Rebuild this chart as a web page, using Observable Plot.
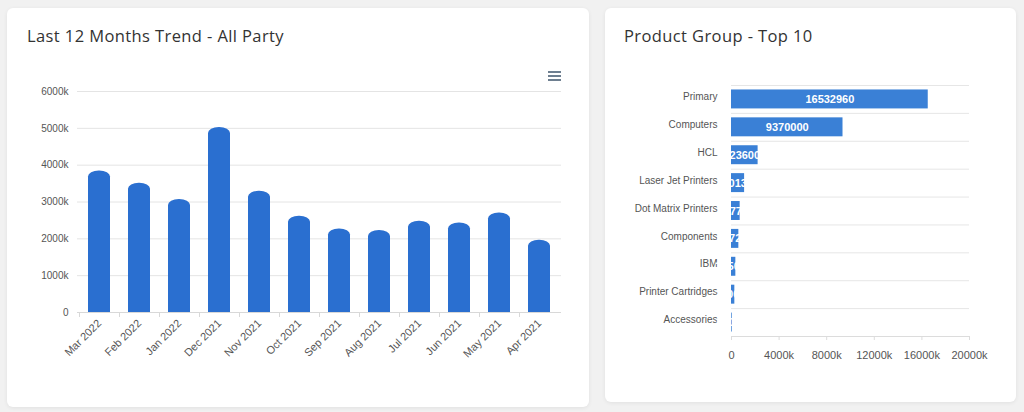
<!DOCTYPE html>
<html>
<head>
<meta charset="utf-8">
<script src="https://cdn.jsdelivr.net/npm/d3@7"></script>
<script src="https://cdn.jsdelivr.net/npm/@observablehq/plot@0.6"></script>
<style>
  html, body { margin: 0; padding: 0; }
  body { width: 1024px; height: 412px; background: #f1f1f1; position: relative; overflow: hidden; font-family: "Liberation Sans", Arial, sans-serif; }
  .card { position: absolute; background: #fff; border-radius: 6px; box-shadow: 0 1px 4px rgba(0,0,0,0.07); }
  .title { position: absolute; font-family: "Open Sans", "Noto Sans", sans-serif; font-size: 16.5px; color: #333; white-space: nowrap; letter-spacing: 0.4px; }
  .chart { position: absolute; left: 0; top: 50px; }
  .menu { position: absolute; width: 13px; height: 10px; }
  .menu div { height: 1.6px; background: #6e7f90; margin-bottom: 2.6px; }
</style>
</head>
<body>
<div class="card" id="leftCard" style="left:7px; top:8px; width:582px; height:399px;">
  <div class="title" style="left:20px; top:16px;">Last 12 Months Trend - All Party</div>
  <div class="menu" style="left:541px; top:63px;"><div></div><div></div><div></div></div>
  <div class="chart" id="left"></div>
</div>
<div class="card" id="rightCard" style="left:605px; top:8px; width:411px; height:394px;">
  <div class="title" style="left:19px; top:16px;">Product Group - Top 10</div>
  <div class="chart" id="right"></div>
</div>
<script>
// ---- Data ----
const months = ["Mar 2022","Feb 2022","Jan 2022","Dec 2021","Nov 2021","Oct 2021","Sep 2021","Aug 2021","Jul 2021","Jun 2021","May 2021","Apr 2021"];
const trendValues = [3840000,3510000,3070000,5020000,3290000,2610000,2270000,2225000,2480000,2430000,2700000,1960000];
const trendTicks = [0,1000000,2000000,3000000,4000000,5000000,6000000];

const groups = ["Primary","Computers","HCL","Laser Jet Printers","Dot Matrix Printers","Components","IBM","Printer Cartridges","Accessories"];
const groupValues = [16532960,9370000,2236000,1101300,727700,617200,365000,280000,60000];
const groupTicks = [0,4000000,8000000,12000000,16000000,20000000];

const kFormat = d => d === 0 ? "0" : (d / 1000) + "k";

// ---- Left chart ----
const trend = months.map((m, i) => ({month: m, value: trendValues[i]}));
const L = {width: 582, height: 314, mt: 33, mb: 60, ml: 70, mr: 28, pi: 0.46, po: 0.23};
const lStep = Math.floor((L.width - L.ml - L.mr) / (months.length - L.pi + 2 * L.po));
const lBw = lStep * (1 - L.pi);
const barColor = "#2a6fd0";

const leftPlot = Plot.plot({
  width: L.width, height: L.height,
  marginTop: L.mt, marginBottom: L.mb, marginLeft: L.ml, marginRight: L.mr,
  style: {fontFamily: "'Liberation Sans', Arial, sans-serif", fontSize: "10px", color: "#555", background: "transparent"},
  x: {domain: months, paddingInner: L.pi, paddingOuter: L.po, round: true, axis: null, label: null},
  y: {domain: [0, 6000000], axis: null, label: null},
  marks: [
    Plot.ruleY(trendTicks.filter(d => d > 0), {stroke: "#e4e4e4", strokeWidth: 1}),
    Plot.axisY({ticks: trendTicks, tickFormat: kFormat, tickSize: 0, tickPadding: 9, fontSize: 10, fill: "#555", label: null}),
    Plot.barY(trend, {x: "month", y: "value", fill: barColor, rx: lBw / 2, ry: 6}),
    Plot.barY(trend, {x: "month", y: d => d.value / 2, fill: barColor, shapeRendering: "crispEdges"}),
    Plot.ruleY([0], {stroke: "#d8d8d8", strokeWidth: 1.2}),
    Plot.axisX({tickSize: 5, tickFormat: () => "", dx: -lStep / 2, stroke: "#d8d8d8", label: null}),
    Plot.axisX({tickSize: 0, tickRotate: -45, tickPadding: 9, dx: 0, fontSize: 11, fill: "#555", label: null})
  ]
});
document.getElementById("left").appendChild(leftPlot);

// ---- Right chart ----
const prod = groups.map((g, i) => ({group: g, value: groupValues[i]}));
const R = {width: 411, height: 318, mt: 27, mb: 40, ml: 126, mr: 47, pi: 0.32, po: 0.16};
const rStep = (R.height - R.mt - R.mb) / (groups.length - R.pi + 2 * R.po);
const rColor = "#3a80d6";

const rightPlot = Plot.plot({
  width: R.width, height: R.height,
  marginTop: R.mt, marginBottom: R.mb, marginLeft: R.ml, marginRight: R.mr,
  style: {fontFamily: "'Liberation Sans', Arial, sans-serif", fontSize: "10px", color: "#555", background: "transparent"},
  x: {domain: [0, 20000000], axis: null, label: null},
  y: {domain: groups, paddingInner: R.pi, paddingOuter: R.po, round: false, axis: null, label: null},
  marks: [
    Plot.tickY(groups, {y: d => d, dy: -rStep / 2, stroke: "#e6e6e6", strokeWidth: 1}),
    Plot.tickY(groups.slice(-1), {y: d => d, dy: rStep / 2, stroke: "#dcdcdc", strokeWidth: 1}),
    Plot.axisY({tickSize: 0, tickPadding: 14, fontSize: 10, fill: "#555", dy: -2.5, label: null}),
    Plot.barX(prod, {y: "group", x: "value", fill: rColor, ariaLabel: "product bars"}),
    Plot.text(prod, {
      y: "group", x: d => d.value / 2, text: d => String(d.value),
      fill: "white", fontWeight: "bold", fontSize: 11, ariaLabel: "bar labels"
    }),
    Plot.axisX({ticks: groupTicks, tickFormat: kFormat, tickSize: 4, tickPadding: 11, fontSize: 11, fill: "#555", stroke: "#dcdcdc", label: null})
  ]
});
document.getElementById("right").appendChild(rightPlot);

// clip each value label to its own bar, using the plot's own scales
(function clipLabels() {
  const ns = "http://www.w3.org/2000/svg";
  const sx = rightPlot.scale("x"), sy = rightPlot.scale("y");
  const bw = sy.bandwidth;
  const labelGroup = rightPlot.querySelector('g[aria-label="bar labels"]');
  if (!labelGroup) return;
  const defs = document.createElementNS(ns, "defs");
  rightPlot.insertBefore(defs, rightPlot.firstChild);
  const texts = Array.from(labelGroup.querySelectorAll("text"));
  texts.forEach((t, k) => {
    const d = prod[k];
    const id = "clipbar" + k;
    const cp = document.createElementNS(ns, "clipPath");
    cp.setAttribute("id", id);
    cp.setAttribute("clipPathUnits", "userSpaceOnUse");
    const r = document.createElementNS(ns, "rect");
    const x0 = sx.apply(0), x1 = sx.apply(d.value);
    r.setAttribute("x", x0);
    r.setAttribute("width", Math.max(0, x1 - x0));
    r.setAttribute("y", sy.apply(d.group));
    r.setAttribute("height", bw);
    cp.appendChild(r);
    defs.appendChild(cp);
    const wrap = document.createElementNS(ns, "g");
    wrap.setAttribute("clip-path", `url(#${id})`);
    t.parentNode.insertBefore(wrap, t);
    wrap.appendChild(t);
  });
})();
</script>
</body>
</html>
